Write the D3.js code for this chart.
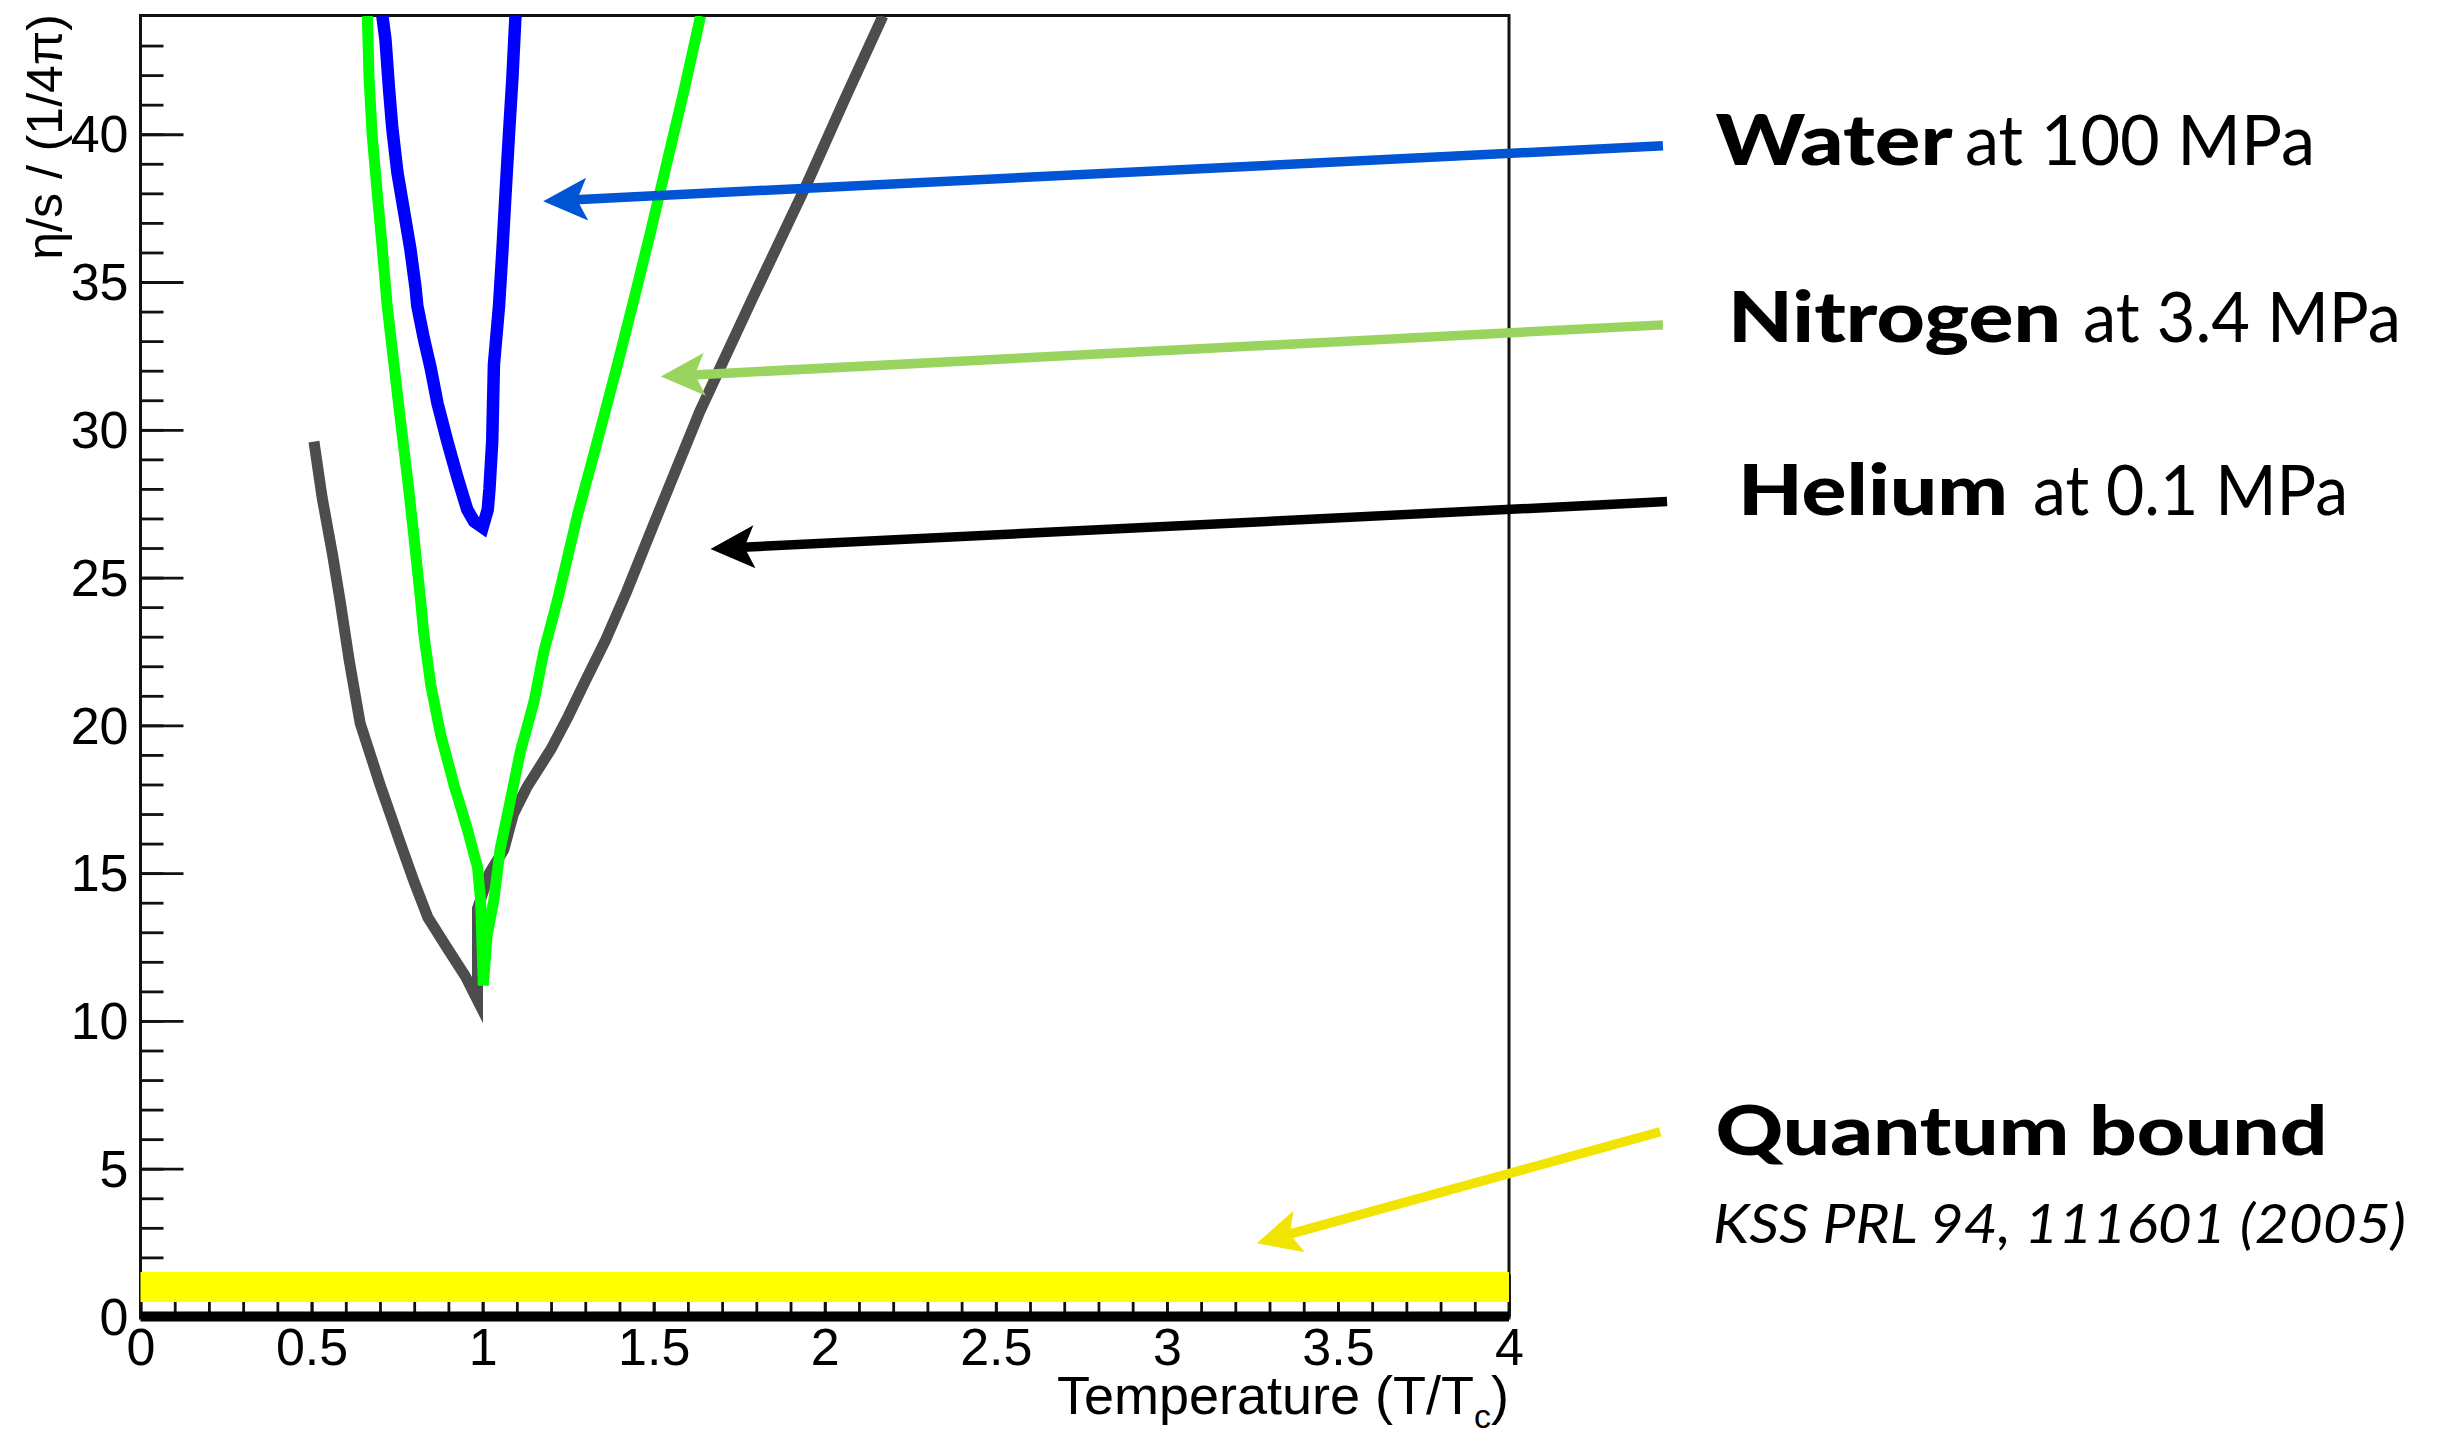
<!DOCTYPE html>
<html>
<head>
<meta charset="utf-8">
<script src="https://cdn.jsdelivr.net/npm/d3@7"></script>
<style>
  html, body { margin: 0; padding: 0; background: #fff; }
  svg { display: block; }
</style>
</head>
<body>
<svg id="chart" width="2440" height="1437"></svg>
<script>
// η/s (in units of the KSS bound 1/4π) versus reduced temperature T/Tc

// Helium at 0.1 MPa: liquid branch, jump at Tc, gas branch
const heliumT   = [0.507, 0.531, 0.561, 0.583, 0.61, 0.642, 0.70, 0.76, 0.80, 0.84, 0.90, 0.95, 0.985,
                   0.985, 1.02, 1.062, 1.09, 1.129, 1.2, 1.25, 1.3, 1.36, 1.42, 1.5, 1.634, 1.791, 1.947, 2.059, 2.17];
const heliumEta = [29.6, 27.7, 25.8, 24.25, 22.2, 20.07, 18.0, 16.0, 14.7, 13.5, 12.4, 11.5, 10.7,
                   13.8, 15.0, 15.8, 17.0, 17.9, 19.2, 20.3, 21.5, 22.9, 24.5, 26.8, 30.6, 34.5, 38.3, 41.2, 44.0];

// Nitrogen at 3.4 MPa
const nitrogenT   = [0.663, 0.668, 0.677, 0.692, 0.707, 0.721, 0.741, 0.760, 0.780, 0.799, 0.819, 0.828, 0.848,
                     0.877, 0.916, 0.955, 0.985, 0.994, 1.002, 1.013, 1.033, 1.051, 1.08, 1.11, 1.15, 1.179,
                     1.218, 1.277, 1.335, 1.394, 1.442, 1.491, 1.54, 1.589, 1.637];
const nitrogenEta = [44.0, 41.9, 40.0, 38.0, 36.1, 34.2, 32.2, 30.3, 28.4, 26.4, 24.2, 23.1, 21.4,
                     19.7, 18.0, 16.5, 15.2, 14.1, 11.2, 12.9, 14.1, 15.8, 17.4, 19.1, 20.8, 22.5,
                     24.2, 27.1, 29.6, 32.2, 34.4, 36.7, 39.1, 41.5, 44.0];

// Water at 100 MPa
const waterT   = [0.707, 0.716, 0.726, 0.736, 0.751, 0.770, 0.789, 0.804, 0.809, 0.828, 0.848, 0.868, 0.897,
                  0.926, 0.955, 0.975, 1.0, 1.015, 1.02, 1.028, 1.033, 1.048, 1.058, 1.067, 1.077, 1.087, 1.096];
const waterEta = [44.0, 43.2, 41.6, 40.2, 38.7, 37.4, 36.1, 34.8, 34.2, 33.1, 32.1, 30.9, 29.6,
                  28.4, 27.3, 26.9, 26.7, 27.3, 28.0, 29.6, 32.2, 34.2, 36.1, 38.0, 40.0, 41.9, 44.0];

// KSS quantum bound η/s = 1/4π, and the zero line, across the full temperature range
const boundT = [0, 4];
const boundEta = [1, 1];
const zeroT = [0, 4];
const zeroEta = [0, 0];

// Axis ticks
const yMajorTicks = [0, 5, 10, 15, 20, 25, 30, 35, 40];
const yTickLabels = ["0", "5", "10", "15", "20", "25", "30", "35", "40"];
const yMinorTicks = d3.range(0, 44, 1);
const xMajorTicks = [0, 0.5, 1, 1.5, 2, 2.5, 3, 3.5, 4];
const xTickLabels = ["0", "0.5", "1", "1.5", "2", "2.5", "3", "3.5", "4"];
const xMinorTicks = d3.range(0, 40.5, 1).map(d => d / 10);

// Annotations: arrows (data coordinates) and their labels
const arrowColors = ["#0055d4", "#99d45f", "#000000", "#f0e400"];
const arrowTailT   = [4.450, 4.450, 4.462, 4.442];
const arrowTailEta = [39.61, 33.55, 27.57, 6.25];
const arrowTipT    = [1.177, 1.521, 1.666, 3.263];
const arrowTipEta  = [37.73, 31.80, 25.97, 2.48];

const labelBold = ["Water", "Nitrogen", "Helium"];
const labelRest = ["at 100 MPa", "at 3.4 MPa", "at 0.1 MPa"];

// ---------------------------------------------------------------------------
const svg = d3.select("#chart");
const plot = { left: 140.5, right: 1509, top: 16, bottom: 1316.5 };

const x = d3.scaleLinear().domain([0, 4]).range([plot.left, plot.right]);
const y = d3.scaleLinear().domain([0, 44]).range([plot.bottom, plot.top]);

const axisFont = "'Liberation Sans', Arial, Helvetica, sans-serif";
const annoFont = "Lato, 'Open Sans', sans-serif";

svg.append("rect").attr("width", 2440).attr("height", 1437).attr("fill", "#fff");

svg.append("defs").append("clipPath").attr("id", "plotClip")
  .append("rect")
  .attr("x", plot.left).attr("y", y(44))
  .attr("width", x(4) - plot.left).attr("height", y(0) - y(44));

// Frame
svg.append("rect")
  .attr("x", plot.left).attr("y", y(44) - 0.5)
  .attr("width", x(4) - plot.left).attr("height", y(0) - y(44) + 2)
  .attr("fill", "none").attr("stroke", "#111").attr("stroke-width", 3);

// Y axis: major and minor ticks pointing into the frame
const yMinor = svg.append("g").attr("transform", `translate(${plot.left},0)`)
  .call(d3.axisLeft(y).tickValues(yMinorTicks).tickSize(-23).tickSizeOuter(0).tickFormat(""));
const yMajor = svg.append("g").attr("transform", `translate(${plot.left},0)`)
  .call(d3.axisLeft(y).tickValues(yMajorTicks).tickSize(-43).tickSizeOuter(0).tickPadding(12)
        .tickFormat((d, i) => yTickLabels[i]));

// X axis: ticks pointing up from the bottom
const xMinor = svg.append("g").attr("transform", `translate(0,${plot.bottom})`)
  .call(d3.axisBottom(x).tickValues(xMinorTicks).tickSize(-21).tickSizeOuter(0).tickFormat(""));
const xMajor = svg.append("g").attr("transform", `translate(0,${plot.bottom})`)
  .call(d3.axisBottom(x).tickValues(xMajorTicks).tickSize(-42).tickSizeOuter(0).tickPadding(12)
        .tickFormat((d, i) => xTickLabels[i]));

[yMinor, yMajor, xMinor, xMajor].forEach(g => {
  g.select(".domain").remove();
  g.selectAll(".tick line").attr("stroke", "#111").attr("stroke-width", 2.8);
  g.selectAll(".tick text")
    .attr("fill", "#000")
    .style("font-family", axisFont)
    .style("font-size", "52px");
});
yMajor.selectAll(".tick text").attr("dy", "0.34em");

// Axis titles
svg.append("text")
  .attr("transform", `translate(62,${plot.top - 2}) rotate(-90)`)
  .attr("text-anchor", "end")
  .style("font-family", axisFont).style("font-size", "50px")
  .attr("fill", "#000")
  .text("η/s / (1/4π)");

const xTitle = svg.append("text")
  .attr("x", plot.right).attr("y", 1414)
  .attr("text-anchor", "end")
  .style("font-family", axisFont).style("font-size", "54px")
  .attr("fill", "#000");
xTitle.append("tspan").text("Temperature (T/T");
xTitle.append("tspan").attr("dy", 14).style("font-size", "34px").text("c");
xTitle.append("tspan").attr("dy", -14).text(")");

// Curves
const line = d3.line().x(d => x(d[0])).y(d => y(d[1]));
const zip = (a, b) => a.map((v, i) => [v, b[i]]);

const curves = svg.append("g").attr("clip-path", "url(#plotClip)");
const series = [
  { t: heliumT,   eta: heliumEta,   color: "#4d4d4d", w: 11 },
  { t: nitrogenT, eta: nitrogenEta, color: "#00ff00", w: 11 },
  { t: waterT,    eta: waterEta,    color: "#0000ff", w: 12.5 }
];
curves.selectAll("path.series").data(series).join("path")
  .attr("class", "series")
  .attr("d", s => line(zip(s.t, s.eta)))
  .attr("fill", "none")
  .attr("stroke", s => s.color)
  .attr("stroke-width", s => s.w)
  .attr("stroke-linejoin", "miter")
  .attr("stroke-miterlimit", 10);

// Quantum bound band and zero line
svg.append("path")
  .attr("d", line(zip(boundT, boundEta)))
  .attr("stroke", "#ffff00").attr("stroke-width", 30).attr("fill", "none");
svg.append("path")
  .attr("d", line(zip(zeroT, zeroEta)))
  .attr("stroke", "#000").attr("stroke-width", 10).attr("fill", "none");

// Arrows
const headLen = 44, headHalf = 21.5, notch = 34;
const arrowG = svg.append("g");
arrowColors.forEach((c, i) => {
  const tx = x(arrowTailT[i]), ty = y(arrowTailEta[i]);
  const hx = x(arrowTipT[i]),  hy = y(arrowTipEta[i]);
  const len = Math.hypot(hx - tx, hy - ty);
  const ux = (hx - tx) / len, uy = (hy - ty) / len;
  const nx = -uy, ny = ux;
  const bx = hx - (notch - 2) * ux, by = hy - (notch - 2) * uy;
  arrowG.append("line")
    .attr("x1", tx).attr("y1", ty).attr("x2", bx).attr("y2", by)
    .attr("stroke", c).attr("stroke-width", 9.5);
  const pts = [
    [hx, hy],
    [hx - headLen * ux + headHalf * nx, hy - headLen * uy + headHalf * ny],
    [hx - notch * ux, hy - notch * uy],
    [hx - headLen * ux - headHalf * nx, hy - headLen * uy - headHalf * ny]
  ];
  arrowG.append("path").attr("d", "M" + pts.map(p => p.join(",")).join("L") + "Z").attr("fill", c);
});

// Labels
const labelBoldX = [1715.5, 1728, 1738], labelBoldLen = [237, 333, 270];
const labelRestX = [1965, 2083, 2033],   labelRestLen = [350, 318, 315];
const labelBase  = [165, 341.7, 515];
labelBold.forEach((t, i) => {
  svg.append("text")
    .attr("x", labelBoldX[i]).attr("y", labelBase[i])
    .attr("textLength", labelBoldLen[i]).attr("lengthAdjust", "spacingAndGlyphs")
    .style("font-family", annoFont).style("font-weight", 900).style("font-size", "70px")
    .attr("fill", "#000").text(t);
  svg.append("text")
    .attr("x", labelRestX[i]).attr("y", labelBase[i])
    .attr("textLength", labelRestLen[i]).attr("lengthAdjust", "spacingAndGlyphs")
    .style("font-family", annoFont).style("font-weight", 400).style("font-size", "70px")
    .attr("fill", "#000").text(labelRest[i]);
});

svg.append("text")
  .attr("x", 1715.5).attr("y", 1155)
  .attr("textLength", 612).attr("lengthAdjust", "spacingAndGlyphs")
  .style("font-family", annoFont).style("font-weight", 900).style("font-size", "68px")
  .attr("fill", "#000").text("Quantum bound");

svg.append("text")
  .attr("x", 1713).attr("y", 1242.7)
  .attr("textLength", 693).attr("lengthAdjust", "spacingAndGlyphs")
  .style("font-family", annoFont).style("font-style", "italic").style("font-weight", 400).style("font-size", "55px")
  .attr("fill", "#000").text("KSS PRL 94, 111601 (2005)");
</script>
</body>
</html>
